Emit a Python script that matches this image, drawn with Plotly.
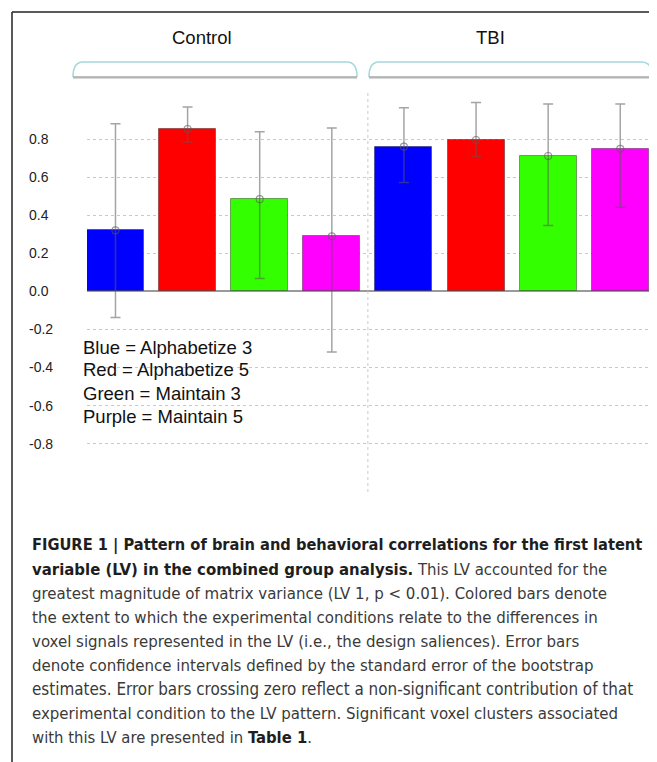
import plotly.graph_objects as go

# ---------------- data ----------------
groups = ["Control", "TBI"]
conditions = ["Alphabetize 3", "Alphabetize 5", "Maintain 3", "Maintain 5"]
bar_colors = ["#0000FF", "#FF0000", "#33FF00", "#FF00FF"]

control_values = [0.320, 0.853, 0.484, 0.289]
control_upper = [0.881, 0.968, 0.839, 0.858]
control_lower = [-0.138, 0.784, 0.067, -0.319]

tbi_values = [0.760, 0.795, 0.711, 0.749]
tbi_upper = [0.965, 0.992, 0.984, 0.984]
tbi_lower = [0.572, 0.709, 0.346, 0.442]

ytick_vals = [0.8, 0.6, 0.4, 0.2, 0.0, -0.2, -0.4, -0.6, -0.8]
ytick_text = ["0.8", "0.6", "0.4", "0.2", "0.0", "-0.2", "-0.4", "-0.6", "-0.8"]
grid_vals = [-1.0, -0.8, -0.6, -0.4, -0.2, 0.0, 0.2, 0.4, 0.6, 0.8, 1.0]

legend_lines = ["Blue = Alphabetize 3", "Red = Alphabetize 5",
                "Green = Maintain 3", "Purple = Maintain 5"]

caption_lines = [
    "<b>FIGURE 1 | Pattern of brain and behavioral correlations for the first latent</b>",
    "<b><span style='color:#1e1e1e'>variable (LV) in the combined group analysis.</span></b> This LV accounted for the",
    "greatest magnitude of matrix variance (LV 1, p &lt; 0.01). Colored bars denote",
    "the extent to which the experimental conditions relate to the differences in",
    "voxel signals represented in the LV (i.e., the design saliences). Error bars",
    "denote confidence intervals defined by the standard error of the bootstrap",
    "estimates. Error bars crossing zero reflect a non-significant contribution of that",
    "experimental condition to the LV pattern. Significant voxel clusters associated",
    "with this LV are presented in <b><span style='color:#1e1e1e'>Table 1</span></b>.",
]
caption_sizes = [16.3, 16.6, 16.7, 16.7, 16.7, 16.7, 16.9, 16.7, 16.5]
caption_colors = ["#1e1e1e"] + ["#3a3a3a"] * 8

# ---------------- layout helpers ----------------
# the page body has an 8px margin, so the figure is placed at (8, 8)
OFF = 8
W, H = 657 - OFF, 762 - OFF
def px(x):
    return (x - OFF) / W
def py(y):
    return 1 - (y - OFF) / H

x_labels = [f"{g} {c}" for g in groups for c in conditions]
values = control_values + tbi_values
upper = control_upper + tbi_upper
lower = control_lower + tbi_lower
colors = bar_colors * 2

err_plus = [u - v for u, v in zip(upper, values)]
err_minus = [v - l for v, l in zip(values, lower)]

fig = go.Figure()
fig.add_trace(go.Bar(
    x=x_labels, y=values, width=0.79,
    marker=dict(color=colors, line=dict(color="rgba(0,0,0,0.35)", width=1)),
    showlegend=False, hoverinfo="x+y",
))
fig.add_trace(go.Scatter(
    x=x_labels, y=values, mode="markers",
    marker=dict(symbol="circle-open", size=7,
                color="rgba(90,90,90,0.6)", line=dict(width=1.2)),
    error_y=dict(type="data", symmetric=False, array=err_plus,
                 arrayminus=err_minus, color="rgba(90,90,90,0.55)",
                 thickness=1.5, width=5),
    showlegend=False, hoverinfo="skip",
))

grid_style = dict(color="#c9c9c9", width=1, dash="dot")

fig.update_layout(
    width=W, height=H,
    margin=dict(l=0, r=0, t=0, b=0),
    paper_bgcolor="white", plot_bgcolor="white",
    font=dict(family="Liberation Sans, Arial, sans-serif", color="#222"),
    bargap=0,
    xaxis=dict(domain=[px(87), px(652)], range=[-0.395, 7.44],
               showticklabels=False, showgrid=False, zeroline=False,
               showline=False, ticks=""),
    yaxis=dict(domain=[py(481.7), py(101)], range=[-1, 1],
               tickvals=grid_vals, showticklabels=False, showgrid=True,
               gridcolor="#c9c9c9", griddash="dot", gridwidth=1,
               zeroline=True, zerolinecolor="#9a9a9a", zerolinewidth=1.5,
               showline=False, ticks=""),
)

shapes = []
# frame
shapes.append(dict(type="line", xref="paper", yref="paper",
                   x0=px(12), x1=1.0, y0=py(12), y1=py(12),
                   line=dict(color="#222", width=1.5)))
shapes.append(dict(type="line", xref="paper", yref="paper",
                   x0=px(12), x1=px(12), y0=py(12), y1=0,
                   line=dict(color="#222", width=1.5)))
# vertical divider between groups
shapes.append(dict(type="line", xref="x", yref="paper",
                   x0=3.5, x1=3.5, y0=py(492), y1=py(92),
                   line=grid_style))
# group brackets
def bracket(l, r, t, b):
    path = (f"M {px(l)},{py(b)} Q {px(l)},{py(t)} {px(l+10)},{py(t)} "
            f"L {px(r-10)},{py(t)} Q {px(r)},{py(t)} {px(r)},{py(b)}")
    return [
        dict(type="path", xref="paper", yref="paper", path=path,
             line=dict(color="#a6d8dc", width=1.6)),
        dict(type="line", xref="paper", yref="paper",
             x0=px(l), x1=px(r), y0=py(b + 1), y1=py(b + 1),
             line=dict(color="#d8d8d8", width=2)),
        dict(type="line", xref="paper", yref="paper",
             x0=px(l), x1=px(r), y0=py(b), y1=py(b),
             line=dict(color="#a8a8a8", width=1.6)),
    ]
shapes += bracket(73, 357, 62, 77)
shapes += bracket(369, 652, 62, 77)
fig.update_layout(shapes=shapes)

ann = []
# group titles
ann.append(dict(text="Control", xref="paper", yref="paper", x=px(202), y=py(38),
                showarrow=False, font=dict(size=18.5, color="#111"),
                xanchor="center", yanchor="middle"))
ann.append(dict(text="TBI", xref="paper", yref="paper", x=px(490), y=py(38),
                showarrow=False, font=dict(size=18.5, color="#111"),
                xanchor="center", yanchor="middle"))
# y tick labels
for v, t in zip(ytick_vals, ytick_text):
    ann.append(dict(text=t, xref="paper", yref="y", x=px(27), y=v,
                    showarrow=False, font=dict(size=14, color="#222"),
                    xanchor="left", yanchor="middle"))
# legend text
for i, t in enumerate(legend_lines):
    ann.append(dict(text=t, xref="paper", yref="paper", x=px(81),
                    y=py(347 + 23 * i), showarrow=False,
                    font=dict(size=18.5, color="#111"),
                    xanchor="left", yanchor="middle"))
# caption
for i, t in enumerate(caption_lines):
    ann.append(dict(text=t, xref="paper", yref="paper", x=px(30),
                    y=py(545 + 24 * i), showarrow=False,
                    font=dict(size=caption_sizes[i], color=caption_colors[i],
                              family="DejaVu Sans Condensed, Liberation Sans, Arial"),
                    xanchor="left", yanchor="middle"))
fig.update_layout(annotations=ann)

fig.write_html("out.html")
